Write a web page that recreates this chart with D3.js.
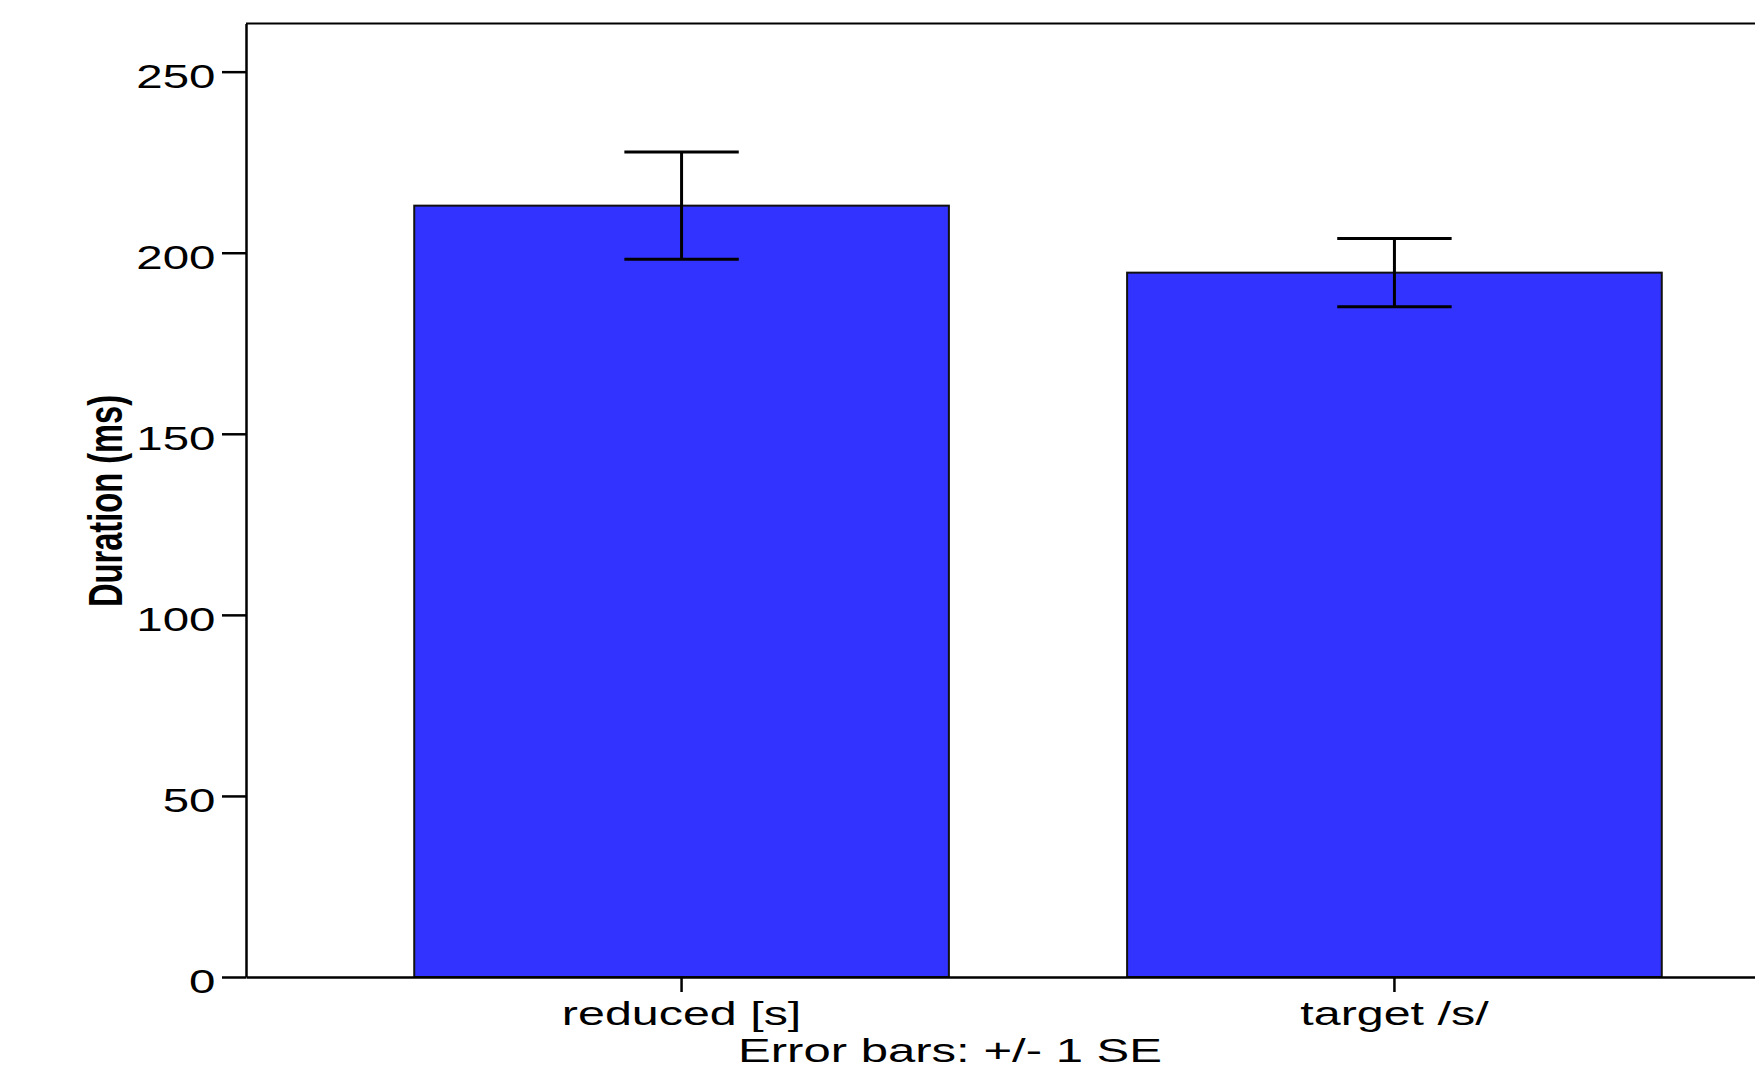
<!DOCTYPE html>
<html>
<head>
<meta charset="utf-8">
<script src="https://d3js.org/d3.v7.min.js"></script>
<style>
  body { margin: 0; background: #fff; }
  text { font-family: "Liberation Sans", Arial, sans-serif; fill: #000; }
</style>
</head>
<body>
<svg id="chart" width="1755" height="1079"></svg>
<script>
//====================================data================================
var categories = ["reduced [s]", "target /s/"];
var means = [213.0, 194.5];
var se = [14.8, 9.4];
var yTicks = [0, 50, 100, 150, 200, 250];
var yLabel = "Duration (ms)";
var footNote = "Error bars: +/- 1 SE";

//====================================layout================================
var plotLeft = 246, plotTop = 23.5, plotBottom = 977, plotRight = 1830;
var stretch = 1.46; // text in the original is wide

var svg = d3.select("#chart");

var x = d3.scaleBand()
  .domain(categories)
  .range([plotLeft, plotRight])
  .paddingInner(0.25)
  .paddingOuter(0.236);

var y = d3.scaleLinear()
  .domain([0, 263.3])
  .range([plotBottom, plotTop]);

//=======================bars===============================
svg.selectAll("rect.bar")
  .data(categories)
  .enter()
  .append("rect")
  .attr("class", "bar")
  .attr("x", function(d) { return x(d); })
  .attr("y", function(d, i) { return y(means[i]); })
  .attr("width", x.bandwidth())
  .attr("height", function(d, i) { return y(0) - y(means[i]); })
  .style("fill", "#3333ff")
  .style("stroke", "#111")
  .style("stroke-width", 2);

//=======================error bars===============================
var cap = x.bandwidth() * 0.107;
var err = svg.append("g").attr("class", "errbars");
for (var i = 0; i < categories.length; i++) {
  var cx = x(categories[i]) + x.bandwidth() / 2;
  var hi = y(means[i] + se[i]),
    lo = y(means[i] - se[i]);
  err.append("line").attr("x1", cx).attr("x2", cx).attr("y1", hi).attr("y2", lo);
  err.append("line").attr("x1", cx - cap).attr("x2", cx + cap).attr("y1", hi).attr("y2", hi);
  err.append("line").attr("x1", cx - cap).attr("x2", cx + cap).attr("y1", lo).attr("y2", lo);
}
err.selectAll("line").style("stroke", "#000").style("stroke-width", 3);

//=======================axes===============================
var yAxis = svg.append("g")
  .attr("transform", "translate(" + plotLeft + ",0)")
  .call(d3.axisLeft(y).tickValues(yTicks).tickSize(24).tickSizeOuter(0));
yAxis.selectAll("text")
  .attr("x", null)
  .attr("dy", null)
  .attr("transform", "translate(-30.5,15.4) scale(" + stretch + ",1)")
  .style("font-size", "32.5px")
  .attr("text-anchor", "end");

var xAxis = svg.append("g")
  .attr("transform", "translate(0," + plotBottom + ")")
  .call(d3.axisBottom(x).tickSize(15).tickSizeOuter(0));
xAxis.selectAll("text")
  .attr("y", null)
  .attr("dy", null)
  .attr("transform", "translate(0,48) scale(1.49,1)")
  .style("font-size", "32.5px")
  .attr("text-anchor", "middle");

svg.selectAll(".domain, .tick line")
  .style("stroke", "#000")
  .style("stroke-width", 2.5);

// top edge of the frame
svg.append("line")
  .attr("x1", plotLeft).attr("x2", plotRight)
  .attr("y1", plotTop).attr("y2", plotTop)
  .style("stroke", "#000")
  .style("stroke-width", 2);

//=======================labels===============================
// y title is a narrow bold face: squeeze along the text
svg.append("text")
  .attr("transform", "translate(122,501) rotate(-90) scale(0.68,1)")
  .attr("text-anchor", "middle")
  .style("font-size", "48px")
  .style("font-weight", "bold")
  .text(yLabel);

svg.append("text")
  .attr("transform", "translate(950,1062) scale(1.51,1)")
  .attr("text-anchor", "middle")
  .style("font-size", "32.5px")
  .text(footNote);
</script>
</body>
</html>
